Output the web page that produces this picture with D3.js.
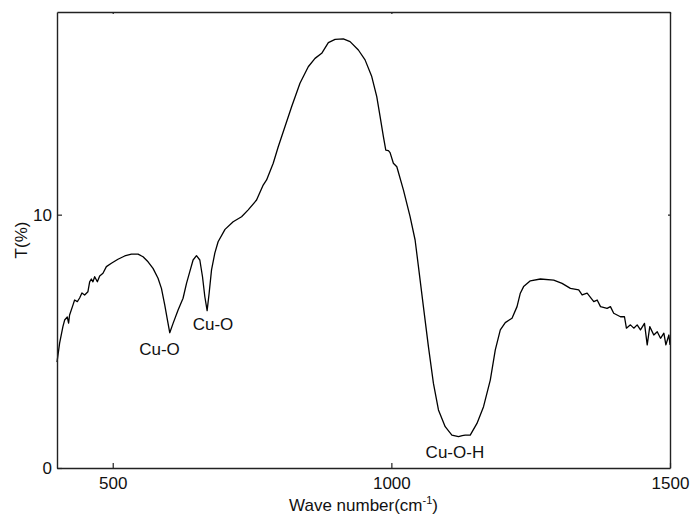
<!DOCTYPE html>
<html>
<head>
<meta charset="utf-8">
<script src="https://cdn.jsdelivr.net/npm/d3@7"></script>
<style>
  body { margin: 0; background: #fff; }
  text { font-family: Arial, "Liberation Sans", sans-serif; fill: #111; }
</style>
</head>
<body>
<div id="chart"></div>
<script>
// wave number (cm-1)
const waveNumber = [400, 404.7, 410.6, 413.7, 418.5, 420.8, 422.6, 428.6, 431.6, 436.5, 440.6, 444.7, 449.6, 455.5,
  458.6, 461.6, 464.5, 467.6, 472.4, 476.6, 482.5, 488.6, 497.6, 509.4, 521.5, 533.5, 545.4, 554.4, 563.4, 572.3,
  581.3, 587.4, 593.4, 598.2, 602.3, 608.3, 617.3, 626.2, 632.4, 638.3, 644.2, 650.3, 656.3, 661.1, 665.3, 669.4,
  673.0, 677.3, 683.2, 689.1, 701.5, 716.1, 731.2, 743.1, 758.1, 770.0, 776.1, 788.0, 797.0, 809.0, 821.0, 836.0,
  850.9, 863.0, 875.0, 886.9, 899.0, 913.8, 925.9, 940.8, 952.8, 964.8, 973.8, 979.8, 985.7, 990.0, 994.7, 997.7,
  1003.6, 1009.8, 1021.6, 1033.6, 1042.6, 1048.6, 1057.5, 1066.5, 1075.5, 1084.5, 1096.6, 1108.6, 1120.5, 1127.1,
  1132.5, 1141.5, 1153.6, 1165.4, 1177.5, 1186.5, 1195.5, 1204.4, 1216.5, 1225.5, 1231.4, 1237.3, 1249.4, 1267.4,
  1291.3, 1306.3, 1321.3, 1336.2, 1342.3, 1351.3, 1363.2, 1369.3, 1375.3, 1387.1, 1393.1, 1399.0, 1411.1, 1418.3,
  1421.8, 1429.0, 1435.0, 1441.1, 1447.0, 1454.2, 1459.1, 1463.7, 1470.9, 1477.1, 1483.0, 1489.0, 1492.6, 1498.0, 1500];
// transmittance T(%)
const transmittance = [4.18, 4.93, 5.58, 5.84, 5.96, 5.72, 6.04, 6.43, 6.63, 6.57, 6.71, 6.91, 6.83, 6.96,
  7.35, 7.46, 7.35, 7.55, 7.35, 7.58, 7.69, 7.95, 8.08, 8.24, 8.37, 8.44, 8.44, 8.34, 8.14, 7.88,
  7.49, 7.09, 6.43, 5.84, 5.34, 5.71, 6.24, 6.70, 7.29, 7.75, 8.21, 8.38, 8.21, 7.55, 6.76, 6.21,
  6.90, 7.82, 8.48, 8.93, 9.42, 9.72, 9.92, 10.19, 10.58, 11.17, 11.37, 12.03, 12.68, 13.47, 14.26, 15.19,
  15.84, 16.17, 16.37, 16.79, 16.92, 16.94, 16.83, 16.50, 16.11, 15.45, 14.66, 13.87, 13.08, 12.55, 12.53, 12.45,
  12.03, 11.89, 10.98, 9.92, 9.00, 7.95, 6.37, 4.79, 3.34, 2.29, 1.63, 1.30, 1.24, 1.28,
  1.30, 1.30, 1.76, 2.42, 3.47, 4.66, 5.45, 5.74, 5.91, 6.37, 6.90, 7.16, 7.39, 7.46,
  7.42, 7.29, 7.09, 7.03, 6.83, 6.90, 6.57, 6.63, 6.37, 6.30, 6.37, 6.11, 5.97, 5.97,
  5.52, 5.65, 5.52, 5.65, 5.45, 5.71, 4.86, 5.58, 5.25, 5.38, 5.12, 5.32, 4.86, 5.25, 4.86];

const xTicks = [500, 1000, 1500];
const yTicks = [0, 10];

// peak annotations
const peakLabels = ["Cu-O", "Cu-O", "Cu-O-H"];
const peakX = [584, 680, 1114];
const peakY = [4.45, 5.45, 0.4];

const W = 694, H = 522;
const margin = { top: 12, right: 24, bottom: 54, left: 57 };

const svg = d3.select("#chart").append("svg")
  .attr("width", W)
  .attr("height", H);

const x = d3.scaleLinear().domain([400, 1500]).range([margin.left, W - margin.right]);
const y = d3.scaleLinear().domain([0, 18]).range([H - margin.bottom, margin.top]);

// curve
const line = d3.line()
  .x((d, i) => x(waveNumber[i]))
  .y(d => y(d));

svg.append("path")
  .datum(transmittance)
  .attr("fill", "none")
  .attr("stroke", "#000")
  .attr("stroke-width", 1.3)
  .attr("stroke-linejoin", "round")
  .attr("d", line);

// axes, ticks inward
const axisStyle = g => {
  g.select(".domain").attr("stroke", "#222").attr("stroke-width", 1.4);
  g.selectAll(".tick line").attr("stroke", "#222").attr("stroke-width", 1.2);
  g.selectAll(".tick text").style("font-size", "17px").attr("fill", "#111");
};

svg.append("g")
  .attr("transform", `translate(0,${y(0)})`)
  .call(d3.axisBottom(x).tickValues(xTicks).tickFormat(d3.format("d"))
    .tickSizeInner(-5).tickSizeOuter(0).tickPadding(9))
  .call(axisStyle);

svg.append("g")
  .attr("transform", `translate(${x(400)},0)`)
  .call(d3.axisLeft(y).tickValues(yTicks).tickFormat(d3.format("d"))
    .tickSizeInner(-5).tickSizeOuter(0).tickPadding(5))
  .call(axisStyle);

svg.append("g")
  .attr("transform", `translate(0,${y(18)})`)
  .call(d3.axisTop(x).tickValues(xTicks).tickSizeInner(-2).tickSizeOuter(0).tickFormat(""))
  .call(axisStyle);

svg.append("g")
  .attr("transform", `translate(${x(1500)},0)`)
  .call(d3.axisRight(y).tickValues(yTicks).tickSizeInner(-2).tickSizeOuter(0).tickFormat(""))
  .call(axisStyle);

// peak labels
svg.selectAll(".peak")
  .data(peakLabels)
  .enter()
  .append("text")
  .attr("class", "peak")
  .attr("x", (d, i) => x(peakX[i]))
  .attr("y", (d, i) => y(peakY[i]))
  .attr("text-anchor", "middle")
  .style("font-size", "17px")
  .text(d => d);

// axis titles
const xt = svg.append("text")
  .attr("x", (x(400) + x(1500)) / 2)
  .attr("y", 511)
  .attr("text-anchor", "middle")
  .style("font-size", "17px");
xt.append("tspan").text("Wave number(cm");
xt.append("tspan").attr("dy", -7).style("font-size", "11px").text("-1");
xt.append("tspan").attr("dy", 7).text(")");

svg.append("text")
  .attr("transform", `translate(27,${(y(0) + y(18)) / 2}) rotate(-90)`)
  .attr("text-anchor", "middle")
  .style("font-size", "17px")
  .text("T(%)");
</script>
</body>
</html>
